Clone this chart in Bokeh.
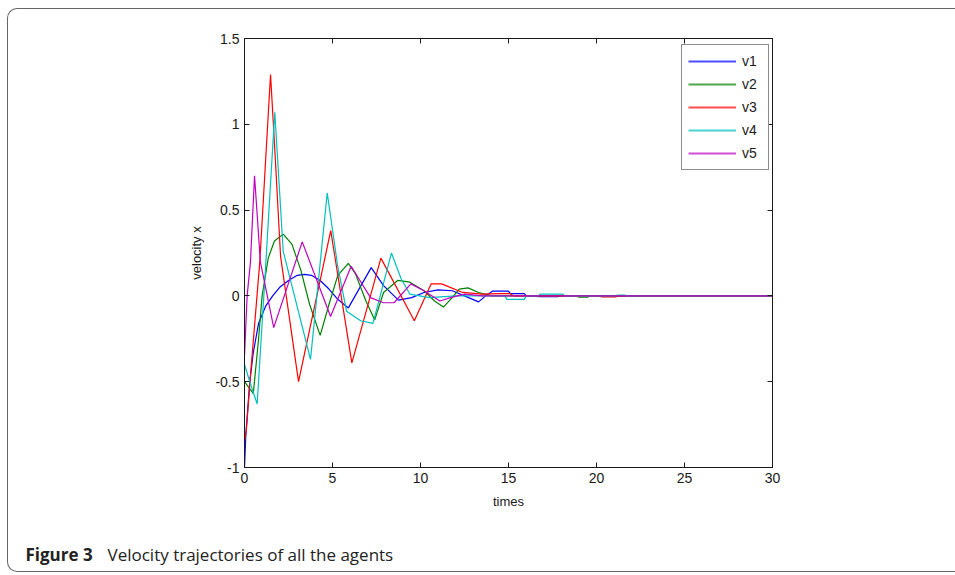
from bokeh.plotting import figure
from bokeh.layouts import column
from bokeh.models import (Legend, LegendItem, LinearAxis, FixedTicker, Range1d,
                          CustomJSTickFormatter, Label)
from bokeh.embed import file_html
from bokeh.resources import INLINE

# ---------------- data ----------------
t1 = [0, 0.08, 0.3, 0.5, 0.8, 1.2, 1.6, 2.0, 2.5, 3.0, 3.4, 3.8, 4.3, 4.8, 5.3, 5.9,
      7.2, 7.9, 8.75, 9.5, 10.2, 11.0, 11.8, 12.5, 13.3, 13.7, 14.1, 15.0, 15.1,
      15.9, 16.0, 16.8, 17.8, 17.9, 30]
v1 = [-1.0, -0.8, -0.5, -0.33, -0.16, -0.06, 0.0, 0.05, 0.09, 0.12, 0.125, 0.12, 0.09,
      0.04, -0.02, -0.07, 0.165, 0.06, -0.025, -0.01, 0.02, 0.035, 0.03, 0.0, -0.035,
      0.0, 0.028, 0.028, 0.013, 0.013, 0.0, -0.005, -0.005, 0.0, 0.0]

t2 = [0, 0.5, 0.8, 1.0, 1.35, 1.7, 2.2, 2.7, 3.2, 3.7, 4.3, 4.8, 5.3, 5.9, 6.3, 6.9,
      7.4, 7.9, 8.7, 9.4, 10.2, 10.8, 11.3, 11.8, 12.2, 12.7, 13.3, 14.0, 18.9,
      19.0, 19.5, 19.6, 30]
v2 = [-0.5, -0.57, -0.25, 0.0, 0.22, 0.32, 0.36, 0.3, 0.15, -0.05, -0.23, -0.05, 0.12,
      0.19, 0.13, -0.03, -0.14, 0.02, 0.09, 0.08, 0.03, -0.03, -0.065, -0.01, 0.04,
      0.047, 0.02, 0.0, 0.0, -0.008, -0.008, 0.0, 0.0]

t3 = [0, 0.1, 0.35, 0.87, 1.48, 1.75, 2.05, 3.07, 4.9, 6.1, 7.75, 9.65, 10.6, 11.2,
      12.4, 13.5, 14.5, 15.1, 15.3, 20.2, 20.3, 21.1, 21.2, 30]
v3 = [-0.85, -0.79, -0.45, 0.2, 1.29, 0.8, 0.23, -0.5, 0.38, -0.39, 0.22, -0.145, 0.07,
      0.07, 0.02, 0.01, 0.013, 0.013, 0.0, 0.0, -0.006, -0.006, 0.0, 0.0]

t4 = [0, 0.3, 0.72, 1.2, 1.72, 2.2, 3.75, 4.7, 5.3, 5.8, 6.6, 7.3, 8.35, 8.9, 9.4,
      10.5, 12.0, 14.8, 14.9, 15.9, 16.0, 16.7, 16.8, 18.1, 18.2, 21.1, 21.2, 21.6,
      21.7, 30]
v4 = [-0.4, -0.5, -0.63, 0.17, 1.07, 0.26, -0.37, 0.6, 0.17, -0.09, -0.145, -0.16,
      0.25, 0.1, 0.01, -0.01, 0.0, 0.0, -0.02, -0.02, 0.0, 0.0, 0.01, 0.01, 0.0, 0.0,
      0.005, 0.005, 0.0, 0.0]

t5 = [0, 0.15, 0.34, 0.57, 0.9, 1.66, 3.28, 4.89, 6.06, 7.16, 7.9, 8.5, 9.45, 10.2,
      11.1, 11.7, 12.5, 13.5, 30]
v5 = [-0.35, 0.0, 0.2, 0.70, 0.2, -0.185, 0.315, -0.12, 0.173, -0.01, -0.04, -0.04,
      0.07, 0.03, -0.03, -0.01, 0.01, 0.0, 0.0]

series_names = ["v1", "v2", "v3", "v4", "v5"]
series_colors = ["#0000ff", "#008000", "#ff0000", "#00bfbf", "#bf00bf"]
x_ticks = [0, 5, 10, 15, 20, 25, 30]
y_ticks = [-1, -0.5, 0, 0.5, 1, 1.5]
x_label = "times"
y_label = "velocity x"
caption_bold = "Figure 3"
caption_text = "Velocity trajectories of all the agents"

# ---------------- layout geometry (page pixels) ----------------
PAGE_W, PAGE_H = 955, 575
BOX_L, BOX_T, BOX_B = 7, 8, 572          # outer rounded panel border
OX, OY = BOX_L + 1, BOX_T + 1            # content origin inside the border
CW = PAGE_W - OX                         # content width (no right border)
CH = BOX_B - 1 - OY                      # content height
H1 = 520 - OY                            # chart figure height
H2 = CH - H1                             # caption figure height
FL, FR, FT, FB = 244, 772, 38, 467       # plot frame edges (page pixels)

p = figure(width=CW, height=H1, output_backend="svg", toolbar_location=None,
           title=None, margin=0,
           x_range=Range1d(0, 30), y_range=Range1d(-1, 1.5),
           min_border_left=FL - OX, min_border_right=CW - (FR - OX),
           min_border_top=FT - OY, min_border_bottom=H1 - (FB - OY),
           x_axis_location=None, y_axis_location=None)
p.frame_align = False
p.grid.visible = False
p.outline_line_color = "#1a1a1a"
p.outline_line_width = 1
p.background_fill_color = "white"
p.border_fill_alpha = 0

fmt = CustomJSTickFormatter(code="return tick.toString();")
tick_font = "Liberation Sans"

def make_axis(kind, show_labels, label=None):
    ax = LinearAxis()
    ax.ticker = FixedTicker(ticks=x_ticks if kind == "x" else y_ticks)
    ax.formatter = fmt
    ax.major_tick_in = 5
    ax.major_tick_out = 0
    ax.minor_tick_line_color = None
    ax.axis_line_color = "#1a1a1a"
    ax.major_tick_line_color = "#1a1a1a"
    ax.major_label_text_font = tick_font
    ax.major_label_text_font_size = "14px"
    ax.major_label_text_color = "#1a1a1a" if show_labels else None
    ax.major_label_standoff = 5
    if label:
        ax.axis_label = label
        ax.axis_label_text_font = tick_font
        ax.axis_label_text_font_size = "13px"
        ax.axis_label_text_font_style = "normal"
        ax.axis_label_text_color = "#1a1a1a"
        ax.axis_label_standoff = 8
    return ax

p.add_layout(make_axis("x", True, x_label), "below")
p.add_layout(make_axis("y", True, y_label), "left")
p.add_layout(make_axis("x", False), "above")
p.add_layout(make_axis("y", False), "right")

items = []
for name, col, t, v in zip(series_names, series_colors,
                           [t1, t2, t3, t4, t5], [v1, v2, v3, v4, v5]):
    p.line(t, v, line_color=col, line_width=1.2)
    # same series again, not drawn in the plot: gives a softer, thicker legend swatch
    sw = p.line(t, v, line_color=col, line_width=2, line_alpha=0.7, visible=False)
    items.append(LegendItem(label=name, renderers=[sw]))

legend = Legend(items=items, location=(681 - FL, FB - 170),
                label_text_font=tick_font, label_text_font_size="14px",
                label_text_color="#1a1a1a",
                glyph_width=48, glyph_height=20, label_height=20,
                label_standoff=6, spacing=3, padding=6, margin=0,
                border_line_color="#1a1a1a", border_line_width=1,
                background_fill_color="white", background_fill_alpha=1)
p.add_layout(legend)

# ---------------- caption strip ----------------
cap = figure(width=CW, height=H2, output_backend="svg", toolbar_location=None,
             title=None, margin=0,
             x_range=Range1d(0, CW), y_range=Range1d(0, H2),
             min_border=0, x_axis_location=None, y_axis_location=None)
cap.frame_align = False
cap.grid.visible = False
cap.outline_line_color = None
cap.background_fill_alpha = 0
cap.border_fill_alpha = 0
base_y = H2 - (554 - (OY + H1))          # baseline, measured from strip bottom
cap.add_layout(Label(x=25 - OX, y=base_y, text=caption_bold, text_font="Open Sans",
                     text_font_size="17px", text_font_style="bold",
                     text_color="#222222", text_baseline="alphabetic"))
cap.add_layout(Label(x=107 - OX, y=base_y, text=caption_text, text_font="Open Sans",
                     text_font_size="17px", text_color="#222222",
                     text_baseline="alphabetic"))

page = column(p, cap, spacing=0, margin=(BOX_T, 0, PAGE_H - BOX_B - 1, BOX_L),
              styles={"border": "1px solid #666666", "border-right": "none",
                      "border-radius": "10px 0 0 10px"})

open("out.html", "w").write(file_html(page, INLINE))
